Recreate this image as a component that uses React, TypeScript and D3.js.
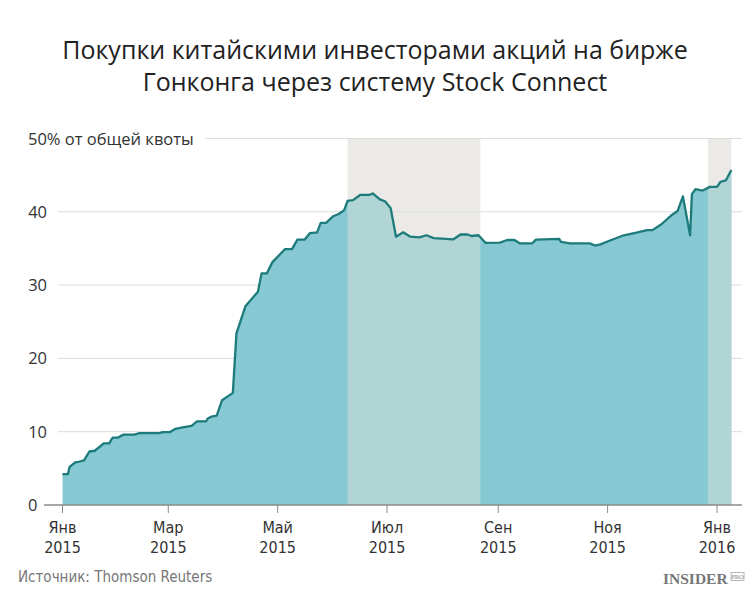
import React from "react";
import * as d3 from "d3";

const dates = [
  "2015-01-01", "2015-01-04", "2015-01-05", "2015-01-08", "2015-01-10", "2015-01-13",
  "2015-01-16", "2015-01-19", "2015-01-24", "2015-01-27", "2015-01-29", "2015-02-01",
  "2015-02-04", "2015-02-10", "2015-02-13", "2015-02-24", "2015-02-26", "2015-03-02",
  "2015-03-05", "2015-03-09", "2015-03-14", "2015-03-17", "2015-03-22", "2015-03-23",
  "2015-03-25", "2015-03-28", "2015-03-31", "2015-04-06", "2015-04-08", "2015-04-13",
  "2015-04-20", "2015-04-22", "2015-04-25", "2015-04-28", "2015-05-05", "2015-05-09",
  "2015-05-12", "2015-05-16", "2015-05-19", "2015-05-23", "2015-05-25", "2015-05-28",
  "2015-06-01", "2015-06-04", "2015-06-07", "2015-06-09", "2015-06-12", "2015-06-16",
  "2015-06-21", "2015-06-23", "2015-06-27", "2015-06-30", "2015-07-03", "2015-07-06",
  "2015-07-10", "2015-07-14", "2015-07-19", "2015-07-23", "2015-07-27", "2015-08-07",
  "2015-08-11", "2015-08-15", "2015-08-17", "2015-08-21", "2015-08-25", "2015-09-02",
  "2015-09-06", "2015-09-10", "2015-09-13", "2015-09-20", "2015-09-22", "2015-10-05",
  "2015-10-06", "2015-10-11", "2015-10-22", "2015-10-25", "2015-10-28", "2015-11-02",
  "2015-11-10", "2015-11-17", "2015-11-23", "2015-11-26", "2015-12-01", "2015-12-07",
  "2015-12-10", "2015-12-13", "2015-12-17", "2015-12-18", "2015-12-20", "2015-12-24",
  "2015-12-28", "2016-01-01", "2016-01-03", "2016-01-06", "2016-01-09",
];

const values = [
  4.2, 4.2, 5.2, 5.8, 5.9, 6.1,
  7.3, 7.4, 8.4, 8.4, 9.2, 9.2,
  9.6, 9.6, 9.8, 9.8, 9.95, 9.95,
  10.4, 10.6, 10.8, 11.4, 11.4, 11.8,
  12.05, 12.2, 14.3, 15.3, 23.4, 27.1,
  29.1, 31.6, 31.6, 33.1, 34.9, 34.9,
  36.2, 36.2, 37.1, 37.2, 38.5, 38.5,
  39.4, 39.7, 40.2, 41.5, 41.6, 42.3,
  42.3, 42.5, 41.7, 41.4, 40.5, 36.6,
  37.2, 36.6, 36.5, 36.8, 36.4, 36.25,
  36.9, 36.9, 36.7, 36.8, 35.75, 35.8,
  36.15, 36.15, 35.7, 35.7, 36.2, 36.3,
  35.9, 35.7, 35.7, 35.4, 35.55, 36.05,
  36.8, 37.15, 37.5, 37.5, 38.3, 39.6,
  40.1, 42.1, 36.8, 42.4, 43.1, 42.9,
  43.4, 43.4, 44.1, 44.3, 45.7,
];

const bandStarts = ["2015-06-09", "2015-12-27"];
const bandEnds = ["2015-08-22", "2016-01-09"];

const xTicks = ["2015-01-01", "2015-03-01", "2015-05-01", "2015-07-01", "2015-09-01", "2015-11-01", "2016-01-01"];
const xTickMonths = ["Янв", "Мар", "Май", "Июл", "Сен", "Ноя", "Янв"];
const xTickYears = ["2015", "2015", "2015", "2015", "2015", "2015", "2016"];

const yTicks = [0, 10, 20, 30, 40, 50];
const yTickLabels = ["0", "10", "20", "30", "40", "50% от общей квоты"];

const titleLines = [
  "Покупки китайскими инвесторами акций на бирже",
  "Гонконга через систему Stock Connect",
];

const parse = d3.utcParse("%Y-%m-%d");

export default function App() {
  const W = 750;
  const H = 598;

  const x = d3
    .scaleUtc()
    .domain([parse("2015-01-01")!, parse("2016-01-01")!])
    .range([62.5, 717]);
  const y = d3.scaleLinear().domain([0, 50]).range([505, 138.5]);

  const points = dates.map((d, i) => ({ date: parse(d)!, value: values[i] }));

  const area = d3
    .area<{ date: Date; value: number }>()
    .x((d) => x(d.date))
    .y0(y(0))
    .y1((d) => y(d.value));
  const line = d3
    .line<{ date: Date; value: number }>()
    .x((d) => x(d.date))
    .y((d) => y(d.value));

  const bands = bandStarts.map((s, i) => ({
    x0: x(parse(s)!),
    x1: x(parse(bandEnds[i])!),
  }));

  const font = "'Open Sans', 'Noto Sans', sans-serif";
  const narrow = "'Liberation Sans Narrow', 'DejaVu Sans Condensed', 'Roboto', sans-serif";

  return (
    <div style={{ position: "absolute", left: 0, top: 0 }}>
      <svg width={W} height={H} style={{ display: "block", background: "#fff" }}>
        <defs>
          <clipPath id="bandClip">
            {bands.map((b, i) => (
              <rect key={i} x={b.x0} y={0} width={b.x1 - b.x0} height={H} />
            ))}
          </clipPath>
        </defs>

        {titleLines.map((t, i) => (
          <text
            key={i}
            x={W / 2}
            y={59 + i * 32}
            textAnchor="middle"
            fontFamily={font}
            fontSize={25}
            fill="#222"
          >
            {t}
          </text>
        ))}

        {/* shaded periods */}
        {bands.map((b, i) => (
          <rect key={i} x={b.x0} y={y(50)} width={b.x1 - b.x0} height={y(0) - y(50)} fill="#ebeae7" />
        ))}

        {/* grid */}
        {yTicks.slice(1).map((t, i) => (
          <line
            key={t}
            x1={i === yTicks.length - 2 ? 205 : 58}
            x2={742}
            y1={y(t)}
            y2={y(t)}
            stroke="#dcdcdc"
            strokeWidth={1}
          />
        ))}

        <path d={area(points)!} fill="#86c9d3" />
        <path d={area(points)!} fill="#b1d4d5" clipPath="url(#bandClip)" />
        <path d={line(points)!} fill="none" stroke="#1e7b7c" strokeWidth={2.3} strokeLinejoin="round" />

        {/* y labels */}
        {yTicks.map((t, i) => (
          <text
            key={t}
            x={i === 0 || i === yTicks.length - 1 ? 28 : 47}
            y={y(t) + 6}
            textAnchor={i === 0 || i === yTicks.length - 1 ? "start" : "end"}
            fontFamily={font}
            fontSize={16.5}
            fill="#333"
          >
            {yTickLabels[i]}
          </text>
        ))}

        {/* x axis */}
        <line x1={44} x2={742} y1={y(0)} y2={y(0)} stroke="#8a8a8a" strokeWidth={1.5} />
        {xTicks.map((t, i) => {
          const px = x(parse(t)!);
          return (
            <g key={t}>
              <line x1={px} x2={px} y1={y(0)} y2={y(0) + 8} stroke="#8a8a8a" strokeWidth={1} />
              <text x={px} y={533} textAnchor="middle" fontFamily={narrow} fontSize={16} fill="#333">
                {xTickMonths[i]}
              </text>
              <text x={px} y={553} textAnchor="middle" fontFamily={narrow} fontSize={16} fill="#333">
                {xTickYears[i]}
              </text>
            </g>
          );
        })}

        <text x={18} y={582} fontFamily={narrow} fontSize={15} fill="#777">
          Источник: Thomson Reuters
        </text>

        <g>
          <text x={663} y={584} fontFamily="'Liberation Serif', serif" fontWeight="bold" fontSize={15.5} fill="#777">
            INSIDER
          </text>
          <rect x={731} y={572.5} width={13} height={8} fill="none" stroke="#999" strokeWidth={0.7} />
          <text x={737.5} y={579} textAnchor="middle" fontFamily="'Liberation Serif', serif" fontSize={6.5} fill="#888">
            PRO
          </text>
        </g>
      </svg>
    </div>
  );
}
